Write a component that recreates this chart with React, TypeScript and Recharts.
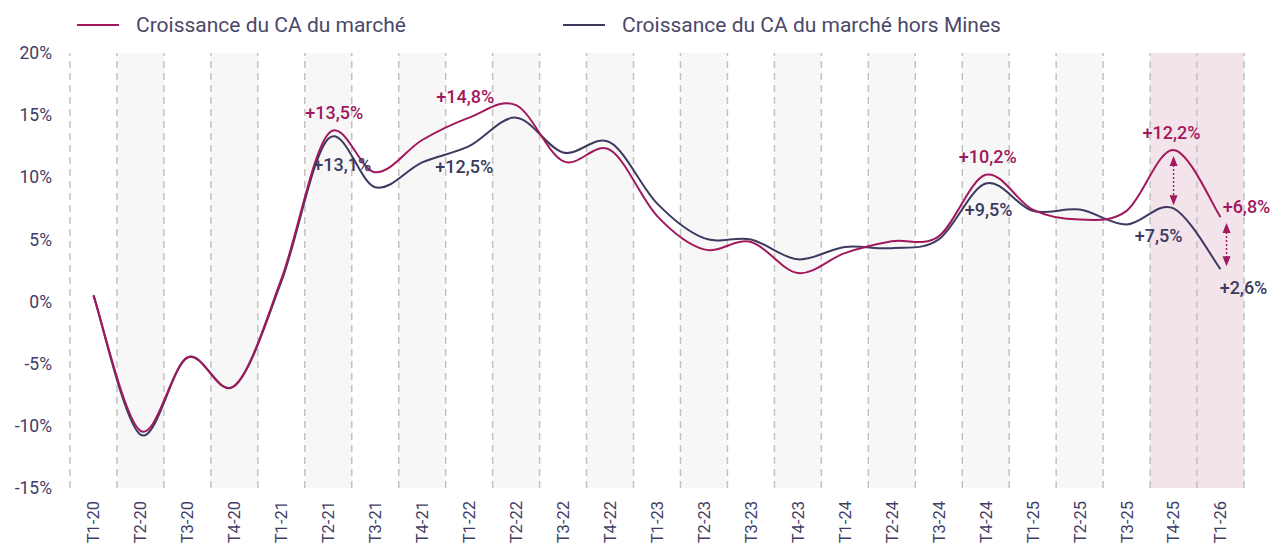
import { Bar, Cell, ComposedChart, Line, ReferenceLine, XAxis, YAxis } from "recharts";

const quarters = [
    "T1-20", "T2-20", "T3-20", "T4-20",
    "T1-21", "T2-21", "T3-21", "T4-21",
    "T1-22", "T2-22", "T3-22", "T4-22",
    "T1-23", "T2-23", "T3-23", "T4-23",
    "T1-24", "T2-24", "T3-24", "T4-24",
    "T1-25", "T2-25", "T3-25", "T4-25",
    "T1-26",
];

// croissance du CA du marché (%)
const marche = [
    0.5, -10.4, -4.5, -6.8,
    1.8, 13.5, 10.4, 13.0,
    14.8, 15.8, 11.3, 12.2,
    6.9, 4.2, 4.8, 2.3,
    3.9, 4.85, 5.25, 10.2,
    7.4, 6.6, 7.3, 12.2,
    6.8,
];

// croissance du CA du marché hors Mines (%)
const horsMines = [
    0.5, -10.7, -4.5, -6.8,
    1.6, 13.1, 9.2, 11.2,
    12.5, 14.8, 12.0, 12.8,
    7.9, 5.1, 5.0, 3.4,
    4.4, 4.3, 5.0, 9.5,
    7.3, 7.4, 6.2, 7.5,
    2.6,
];

const yTicks = [-15, -10, -5, 0, 5, 10, 15, 20];
const labelledQuarters = ["T2-21", "T1-22", "T4-24", "T4-25", "T1-26"];
const highlightedQuarters = ["T4-25", "T1-26"];

const PINK = "#a2185c";
const NAVY = "#3c3a5f";
const TEXT = "#3f3d64";

const data = quarters.map((q, i) => ({
    q,
    marche: marche[i],
    horsMines: horsMines[i],
    band: [yTicks[0], yTicks[yTicks.length - 1]],
}));

// same smoothing as the spreadsheet "smoothed line" (catmull-rom through the points)
const smooth = (context: any) => {
    let px: number[] = [];
    let py: number[] = [];
    let area = NaN;
    return {
        areaStart() { area = 0; },
        areaEnd() { area = NaN; },
        lineStart() { px = []; py = []; },
        point(x: number, y: number) { px.push(+x); py.push(+y); },
        lineEnd() {
            const n = px.length;
            if (!n) return;
            if (area === 0) context.lineTo(px[0], py[0]);
            else context.moveTo(px[0], py[0]);
            for (let i = 0; i < n - 1; i++) {
                const a = Math.max(i - 1, 0);
                const d = Math.min(i + 2, n - 1);
                context.bezierCurveTo(
                    px[i] + (px[i + 1] - px[a]) / 6, py[i] + (py[i + 1] - py[a]) / 6,
                    px[i + 1] - (px[d] - px[i]) / 6, py[i + 1] - (py[d] - py[i]) / 6,
                    px[i + 1], py[i + 1]
                );
            }
        },
    };
};

const fmt = (v: number) => `${v > 0 ? "+" : ""}${v.toFixed(1).replace(".", ",")}%`;

const labelOffsets: Record<string, Record<string, { dx: number, dy: number }>> = {
    marche: {
        "T2-21": { dx: 6, dy: -21 },
        "T1-22": { dx: -4, dy: -21 },
        "T4-24": { dx: 2, dy: -18 },
        "T4-25": { dx: -2, dy: -17 },
        "T1-26": { dx: 26, dy: -11 },
    },
    horsMines: {
        "T2-21": { dx: 14, dy: 26 },
        "T1-22": { dx: -5, dy: 20 },
        "T4-24": { dx: 3, dy: 26 },
        "T4-25": { dx: -15, dy: 27 },
        "T1-26": { dx: 23, dy: 18 },
    },
};

const makeLabel = (key: "marche" | "horsMines", color: string) => (props: any) => {
    const { cx, cy, payload, index } = props;
    if (!labelledQuarters.includes(payload.q)) return <g key={`l-${key}-${index}`} />;
    const off = labelOffsets[key][payload.q];
    return (
        <text key={`l-${key}-${index}`} x={cx + off.dx} y={cy + off.dy} textAnchor="middle"
            dominantBaseline="central" fill={color} fontSize={18} fontWeight={500}
            fontFamily="Roboto">
            {fmt(payload[key])}
        </text>
    );
};

const QuarterTick = ({ x, y, payload }: any) => (
    <text x={x} y={y} transform={`rotate(-90, ${x}, ${y})`} textAnchor="end" dx={-5} dy="0.36em"
        fill={TEXT} fontSize={16.5} fontFamily="Roboto">
        {payload.value}
    </text>
);

const Arrow = (shift: number) => (props: any) => {
    const { x1, y1, x2, y2 } = props;
    if (x1 == null) return <g />;
    const x = x1 + shift;
    const top = Math.min(y1, y2) + 6;
    const bottom = Math.max(y1, y2) - 3;
    return (
        <g>
            <line x1={x} x2={x} y1={top + 9} y2={bottom - 9} stroke={PINK} strokeWidth={1.4} strokeDasharray="2 2" />
            <polygon points={`${x},${top} ${x - 4},${top + 10} ${x + 4},${top + 10}`} fill={PINK} />
            <polygon points={`${x},${bottom} ${x - 4},${bottom - 10} ${x + 4},${bottom - 10}`} fill={PINK} />
        </g>
    );
};

const legendItems = [
    { name: "Croissance du CA du marché", color: PINK, left: 77 },
    { name: "Croissance du CA du marché hors Mines", color: NAVY, left: 563 },
];

export default function App() {
    const last = quarters.length - 1;
    return (
        <div style={{ position: "absolute", left: 0, top: 0, width: 1272, height: 549, background: "#fff", fontFamily: "Roboto" }}>
            {legendItems.map((item) => (
                <div key={item.name} style={{ position: "absolute", left: item.left, top: 12, display: "flex", alignItems: "center", height: 26 }}>
                    <span style={{ display: "inline-block", width: 42, height: 1.5, background: item.color, marginRight: 17 }} />
                    <span style={{ fontSize: 21, color: "#4a4869", whiteSpace: "nowrap" }}>{item.name}</span>
                </div>
            ))}
            <ComposedChart
                width={1272}
                height={549}
                data={data}
                barCategoryGap={0}
                barGap={0}
                margin={{ top: 53, right: 28, left: 0, bottom: 0 }}
            >
                <XAxis dataKey="q" interval={0} height={61} axisLine={false} tickLine={false} tick={<QuarterTick />} />
                <YAxis
                    width={70}
                    domain={[yTicks[0], yTicks[yTicks.length - 1]]}
                    ticks={yTicks}
                    tickFormatter={(v) => `${v}%`}
                    axisLine={false}
                    tickLine={false}
                    tickMargin={12}
                    tick={{ fill: TEXT, fontSize: 17.5, fontFamily: "Roboto" }}
                />
                <Bar dataKey="band" isAnimationActive={false}>
                    {quarters.map((q, i) => (
                        <Cell key={q} fill={highlightedQuarters.includes(q) ? "#f3e3ea" : i % 2 === 1 ? "#f7f7f7" : "transparent"} />
                    ))}
                </Bar>
                {quarters.map((q) => (
                    <ReferenceLine key={`s-${q}`} x={q} position="start" stroke="#c2c2c2" strokeWidth={1.5} strokeDasharray="7 5" />
                ))}
                <ReferenceLine x={quarters[last]} position="end" stroke="#c2c2c2" strokeWidth={1.5} strokeDasharray="7 5" />
                <Line
                    type={smooth as any}
                    dataKey="horsMines"
                    stroke={NAVY}
                    strokeWidth={2}
                    dot={makeLabel("horsMines", NAVY)}
                    activeDot={false}
                    isAnimationActive={false}
                />
                <Line
                    type={smooth as any}
                    dataKey="marche"
                    stroke={PINK}
                    strokeWidth={2}
                    dot={makeLabel("marche", PINK)}
                    activeDot={false}
                    isAnimationActive={false}
                />
                <ReferenceLine
                    segment={[{ x: "T4-25", y: marche[23] }, { x: "T4-25", y: horsMines[23] }]}
                    shape={Arrow(0)}
                />
                <ReferenceLine
                    segment={[{ x: "T1-26", y: marche[24] }, { x: "T1-26", y: horsMines[24] }]}
                    shape={Arrow(6)}
                />
            </ComposedChart>
        </div>
    );
}
